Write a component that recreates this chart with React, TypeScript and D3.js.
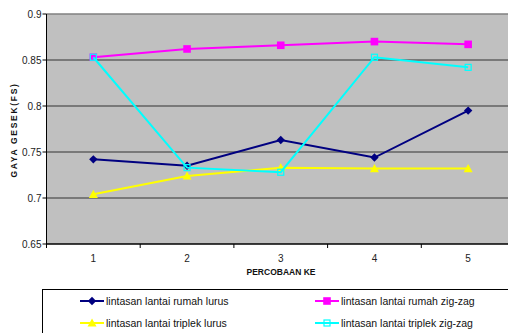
import React from "react";
import * as d3 from "d3";

const categories = ["1", "2", "3", "4", "5"];
const rumahLurus = [0.742, 0.735, 0.763, 0.744, 0.795];
const rumahZigzag = [0.853, 0.862, 0.866, 0.870, 0.867];
const triplekLurus = [0.704, 0.724, 0.733, 0.732, 0.732];
const triplekZigzag = [0.853, 0.733, 0.728, 0.853, 0.842];
const yTicks = [0.65, 0.7, 0.75, 0.8, 0.85, 0.9];
const seriesNames = [
  "lintasan lantai rumah lurus",
  "lintasan lantai rumah zig-zag",
  "lintasan lantai triplek lurus",
  "lintasan lantai triplek zig-zag",
];

const W = 508;
const H = 333;
const plotL = 46.5;
const plotR = 515;
const plotT = 14;
const plotB = 244;
const FONT = "Arial, 'Liberation Sans', sans-serif";

type Marker = "diamond" | "square" | "triangle" | "hollow";
const series: { name: string; values: number[]; color: string; marker: Marker }[] = [
  { name: seriesNames[0], values: rumahLurus, color: "#000080", marker: "diamond" },
  { name: seriesNames[1], values: rumahZigzag, color: "#FF00FF", marker: "square" },
  { name: seriesNames[2], values: triplekLurus, color: "#FFFF00", marker: "triangle" },
  { name: seriesNames[3], values: triplekZigzag, color: "#00FFFF", marker: "hollow" },
];

function MarkerShape({ x, y, type, color }: { x: number; y: number; type: Marker; color: string }) {
  if (type === "diamond") {
    const s = 4.2;
    return <path d={`M${x},${y - s}L${x + s},${y}L${x},${y + s}L${x - s},${y}Z`} fill={color} />;
  }
  if (type === "square") {
    const s = 3.8;
    return <rect x={x - s} y={y - s} width={2 * s} height={2 * s} fill={color} />;
  }
  if (type === "triangle") {
    const s = 4.5;
    return <path d={`M${x},${y - s}L${x + s},${y + s * 0.8}L${x - s},${y + s * 0.8}Z`} fill={color} />;
  }
  const s = 3;
  return <rect x={x - s} y={y - s} width={2 * s} height={2 * s} fill="none" stroke={color} strokeWidth={1.2} />;
}

export default function App() {
  const x = d3.scaleBand<string>().domain(categories).range([plotL, plotR]);
  const y = d3.scaleLinear().domain([0.65, 0.9]).range([plotB, plotT]);
  const cx = (c: string) => (x(c) as number) + x.bandwidth() / 2;
  const line = d3
    .line<number>()
    .x((_, i) => cx(categories[i]))
    .y((v) => y(v));

  const boundaries = categories.map((c) => x(c) as number).concat([plotR]);

  const legendItems = [
    { s: series[0], lx: 80, ly: 301 },
    { s: series[1], lx: 315, ly: 301 },
    { s: series[2], lx: 80, ly: 323 },
    { s: series[3], lx: 315, ly: 323 },
  ];

  return (
    <svg
      width={W}
      height={H}
      style={{ position: "absolute", left: 0, top: 0, background: "#fff" }}
      fontFamily={FONT}
    >
      <rect x={plotL} y={plotT} width={plotR - plotL} height={plotB - plotT} fill="#C0C0C0" />
      {yTicks.slice(1).map((t) => (
        <line
          key={t}
          x1={plotL}
          x2={plotR}
          y1={y(t)}
          y2={y(t)}
          stroke={t === 0.9 ? "#808080" : "#333"}
          strokeWidth={t === 0.9 ? 1.5 : 1}
        />
      ))}
      {/* axes */}
      <line x1={plotL} x2={plotL} y1={plotT} y2={plotB} stroke="#000" strokeWidth={1} />
      <line x1={plotL} x2={plotR} y1={plotB} y2={plotB} stroke="#000" strokeWidth={1.5} />
      {yTicks.map((t) => (
        <g key={t}>
          <line x1={plotL - 4} x2={plotL} y1={y(t)} y2={y(t)} stroke="#000" />
          <text x={plotL - 5} y={y(t) + 3.5} fontSize={10} textAnchor="end" fill="#222">
            {t === 0.7 || t === 0.8 || t === 0.9 ? t.toFixed(1) : t.toFixed(2)}
          </text>
        </g>
      ))}
      {boundaries.map((b, i) => (
        <line key={i} x1={b} x2={b} y1={plotB} y2={plotB + 4} stroke="#000" />
      ))}
      {categories.map((c) => (
        <text key={c} x={cx(c)} y={plotB + 18} fontSize={10} textAnchor="middle" fill="#222">
          {c}
        </text>
      ))}
      {/* series */}
      {series.map((s) => (
        <g key={s.name}>
          <path d={line(s.values) as string} fill="none" stroke={s.color} strokeWidth={2} />
          {s.values.map((v, i) => (
            <MarkerShape key={i} x={cx(categories[i])} y={y(v)} type={s.marker} color={s.color} />
          ))}
        </g>
      ))}
      {/* axis titles */}
      <text
        x={281}
        y={275}
        fontSize={8.5}
        fontWeight="bold"
        textAnchor="middle"
        fill="#111"
      >
        PERCOBAAN KE
      </text>
      <text
        transform={`translate(17,130) rotate(-90)`}
        fontSize={8.5}
        fontWeight="bold"
        textAnchor="middle"
        letterSpacing={1.7}
        fill="#111"
      >
        GAYA GESEK(FS)
      </text>
      {/* legend */}
      <rect x={42.5} y={289.5} width={480} height={60} fill="#fff" stroke="#000" strokeWidth={1} />
      {legendItems.map(({ s, lx, ly }) => (
        <g key={s.name}>
          <line x1={lx} x2={lx + 24} y1={ly} y2={ly} stroke={s.color} strokeWidth={2} />
          <MarkerShape x={lx + 12} y={ly} type={s.marker} color={s.color} />
          <text x={lx + 26} y={ly + 3.7} fontSize={10.5} fill="#111">
            {s.name}
          </text>
        </g>
      ))}
    </svg>
  );
}
